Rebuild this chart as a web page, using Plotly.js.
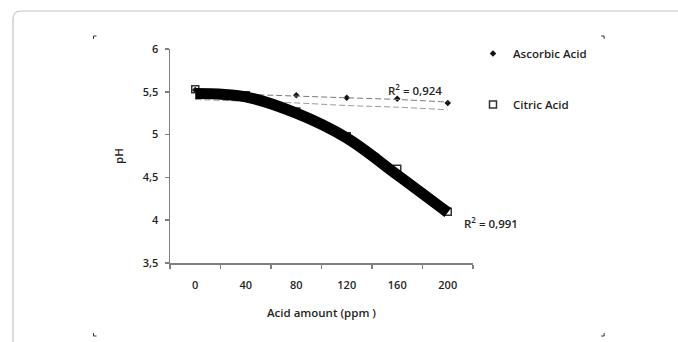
<!DOCTYPE html>
<html>
<head>
<meta charset="utf-8">
<script src="https://cdn.plot.ly/plotly-3.0.1.min.js"></script>
<style>html,body{margin:0;padding:0;background:#fff;}#chart{width:678px;height:342px;}</style>
</head>
<body>
<div id="chart"></div>
<script>
// Categories (acid amount, ppm)
const categories = ['0', '40', '80', '120', '160', '200'];
// Measured pH values
const ascorbicPH = [5.52, 5.47, 5.46, 5.43, 5.42, 5.37];
const citricPH = [5.53, 5.46, 5.27, 4.98, 4.60, 4.10];
// Trendlines as drawn in the picture
const citricTrend = [5.48, 5.44, 5.25, 4.96, 4.53, 4.09];
const ascorbicTrendUpper = [5.49, 5.47, 5.45, 5.43, 5.41, 5.38];
const ascorbicTrendLower = [5.41, 5.39, 5.37, 5.34, 5.32, 5.29];
const yTicks = [3.5, 4, 4.5, 5, 5.5, 6];
const r2Ascorbic = 'R<sup>2</sup> = 0,924';
const r2Citric = 'R<sup>2</sup> = 0,991';

const FONT = 'Open Sans, sans-serif';
const TXT = '#1f1f1f';
const LBL = {family: FONT, size: 11.5, color: TXT, weight: 600};
const TICK = {family: FONT, size: 11, color: TXT, weight: 600};

const traces = [
  {x: categories, y: ascorbicPH, type: 'scatter', mode: 'markers', name: 'Ascorbic Acid', legendgroup: 'a',
   marker: {symbol: 'diamond', size: 5, color: '#111111'}},
  {x: categories, y: citricPH, type: 'scatter', mode: 'markers', name: 'Citric Acid', legendgroup: 'c',
   marker: {symbol: 'square-open', size: 7, color: '#333333', line: {width: 1.5}}},
  {x: categories, y: ascorbicTrendUpper, type: 'scatter', mode: 'lines', showlegend: false, hoverinfo: 'skip',
   line: {color: '#7a7a7a', width: 1, dash: '6px,3px', shape: 'spline'}},
  {x: categories, y: ascorbicTrendLower, type: 'scatter', mode: 'lines', showlegend: false, hoverinfo: 'skip',
   line: {color: '#9a9a9a', width: 1, dash: '6px,3px', shape: 'spline'}},
  {x: categories, y: citricTrend, type: 'scatter', mode: 'lines', showlegend: false, hoverinfo: 'skip',
   line: {color: '#000000', width: 11, shape: 'spline'}}
];

function px(x){ return (x - 170) / 305; }
function py(y){ return (263 - y) / 214; }

const layout = {
  width: 678, height: 342,
  margin: {l: 170, r: 203, t: 49, b: 79, pad: 0},
  paper_bgcolor: '#ffffff', plot_bgcolor: '#ffffff',
  separators: ',.',
  font: LBL,
  showlegend: true,
  legend: {xref: 'container', yref: 'container', x: 473/678, y: 1 - 39/342, xanchor: 'left', yanchor: 'top',
           font: LBL, tracegroupgap: 32, traceorder: 'grouped',
           bgcolor: 'rgba(0,0,0,0)', itemwidth: 30},
  xaxis: {type: 'category', tickson: 'boundaries', showgrid: false, zeroline: false,
          showline: true, linecolor: '#808080', linewidth: 1.5, ticks: 'outside', ticklen: 4,
          tickcolor: '#808080', tickwidth: 1.5, range: [-0.5, 5.5], ticklabelstandoff: 11,
          tickfont: TICK,
          title: {text: 'Acid amount (ppm )', font: LBL, standoff: 18}},
  yaxis: {range: [3.5, 6], tickvals: yTicks, showgrid: false, zeroline: false,
          showline: true, linecolor: '#808080', linewidth: 1.5, ticks: 'outside', ticklen: 4,
          tickcolor: '#808080', tickwidth: 1.5, ticklabelstandoff: 4,
          tickfont: TICK,
          title: {text: 'pH', font: LBL, standoff: 16}},
  annotations: [
    {xref: 'paper', yref: 'paper', x: px(387), y: py(89), text: r2Ascorbic, showarrow: false,
     xanchor: 'left', yanchor: 'middle', font: LBL},
    {xref: 'paper', yref: 'paper', x: px(464), y: py(222), text: r2Citric, showarrow: false,
     xanchor: 'left', yanchor: 'middle', font: LBL}
  ]
};

const frame = 'M ' + px(12) + ' ' + py(360) + ' L ' + px(12) + ' ' + py(19) +
  ' Q ' + px(12) + ' ' + py(11) + ' ' + px(20) + ' ' + py(11) + ' L ' + px(700) + ' ' + py(11);
layout.shapes = [
  {type: 'path', xref: 'paper', yref: 'paper', path: frame, line: {color: '#c4c4c4', width: 1.2}, layer: 'below'},
  {type: 'path', xref: 'paper', yref: 'paper', path: 'M ' + px(93) + ' ' + py(39) + ' L ' + px(93) + ' ' + py(36) + ' L ' + px(96) + ' ' + py(36), line: {color: '#333', width: 1}},
  {type: 'path', xref: 'paper', yref: 'paper', path: 'M ' + px(604) + ' ' + py(36) + ' L ' + px(607) + ' ' + py(36) + ' L ' + px(607) + ' ' + py(39), line: {color: '#333', width: 1}},
  {type: 'path', xref: 'paper', yref: 'paper', path: 'M ' + px(93) + ' ' + py(333) + ' L ' + px(93) + ' ' + py(336) + ' L ' + px(96) + ' ' + py(336), line: {color: '#333', width: 1}},
  {type: 'path', xref: 'paper', yref: 'paper', path: 'M ' + px(604) + ' ' + py(336) + ' L ' + px(607) + ' ' + py(336) + ' L ' + px(607) + ' ' + py(333), line: {color: '#333', width: 1}}
];

Plotly.newPlot('chart', traces, layout, {displayModeBar: false, staticPlot: true});
</script>
</body>
</html>
